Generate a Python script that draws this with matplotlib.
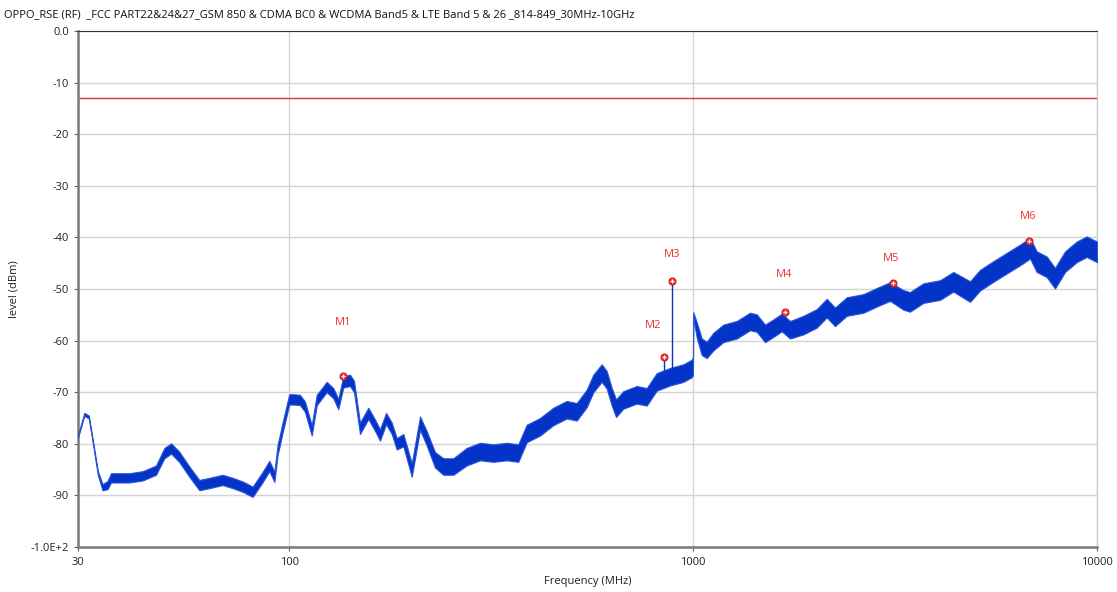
import numpy as np
from matplotlib import pyplot as plt
import matplotlib.ticker as ticker

# trace (MHz, dBm); band = half width of the noisy trace
freq_mhz = [30, 31.1, 31.9, 32.6, 33.6, 34.5, 35.5, 36.2, 38.0, 40.2, 43.4, 46.8, 49.1, 51.0,
            53.4, 56.6, 59.9, 63.4, 68.4, 72.5, 76.7, 81.2, 86.0, 89.3, 91.9, 93.6, 96.4,
            100.0, 102.9, 106.3, 109.4, 113.7, 117.0, 123.8, 128.6, 132.3, 136.1, 141.4,
            144.7, 149.7, 157.0, 163.1, 167.8, 173.7, 179.4, 184.6, 191.7, 201.1, 210.8,
            218.9, 229.6, 240.7, 254.9, 275.1, 296.8, 320.2, 345.6, 369.1, 387.3, 417.8,
            450.7, 486.5, 515.0, 545.3, 566.2, 593.9, 611.1, 628.8, 644.4, 671.8, 725.2,
            767.6, 812.6, 876.6, 946.0, 992.2, 999, 1001, 1020.7, 1050.3, 1080.8, 1122,
            1188, 1282, 1383, 1437, 1507, 1580, 1657, 1738, 1874, 2023, 2142, 2245, 2401,
            2639, 2849, 3073, 3314, 3443, 3715, 4087, 4408, 4849, 5132, 5538, 5976, 6448,
            6826, 7092, 7507, 7870, 8335, 8905, 9430, 10000]
level_dbm = [-78.5, -74.3, -74.8, -79.3, -85.7, -88.4, -88.0, -86.6, -86.6, -86.6, -86.2,
             -85.1, -81.8, -80.9, -82.5, -85.4, -88.0, -87.6, -87.0, -87.6, -88.3, -89.3,
             -86.4, -84.3, -86.4, -81.2, -76.7, -71.4, -71.4, -71.5, -72.8, -77.4, -71.5,
             -69.0, -70.2, -72.3, -68.0, -67.7, -68.9, -77.0, -74.1, -76.4, -78.3, -75.1,
             -77.0, -80.0, -79.3, -85.1, -76.0, -78.9, -83.1, -84.4, -84.4, -82.5, -81.5,
             -81.8, -81.5, -81.8, -78.0, -76.7, -74.7, -73.4, -73.8, -71.2, -68.3, -66.3,
             -67.6, -70.9, -73.1, -71.5, -70.5, -70.9, -68.0, -67.0, -66.3, -65.4, -65.0,
             -55.0, -57.9, -61.2, -61.8, -60.2, -58.6, -57.9, -56.3, -56.6, -58.6, -57.6,
             -56.5, -57.9, -57.0, -55.7, -53.7, -55.4, -53.4, -52.8, -51.6, -50.5, -52.1,
             -52.5, -50.8, -50.2, -48.6, -50.5, -48.3, -46.6, -45.0, -43.4, -42.1, -44.7,
             -45.7, -47.9, -44.7, -42.8, -41.8, -42.8]
band_db = [0.3, 0.3, 0.3, 0.3, 0.4, 0.6, 0.8, 0.9, 0.9, 0.9, 0.9, 0.9, 1.0, 1.0, 1.0,
           1.0, 1.0, 1.0, 1.0, 1.0, 1.0, 1.0, 1.0, 1.0, 1.0, 1.0, 1.0, 1.0, 1.0, 1.0, 1.0,
           1.0, 1.0, 1.0, 1.0, 1.0, 1.1, 1.1, 1.1, 1.1, 1.1, 1.1, 1.1, 1.1, 1.1, 1.1, 1.2,
           1.3, 1.3, 1.4, 1.5, 1.6, 1.6, 1.7, 1.7, 1.7, 1.7, 1.7, 1.7, 1.7, 1.7, 1.7, 1.7,
           1.7, 1.7, 1.7, 1.7, 1.7, 1.7, 1.7, 1.7, 1.7, 1.7, 1.7, 1.7, 1.7, 1.7, 0.5, 1.5,
           1.6, 1.6, 1.7, 1.7, 1.7, 1.7, 1.7, 1.7, 1.7, 1.7, 1.7, 1.8, 1.8, 1.8, 1.8, 1.8,
           1.8, 1.8, 1.8, 1.9, 1.9, 1.9, 1.9, 1.9, 2.0, 2.0, 2.0, 2.0, 2.0, 2.0, 2.0, 2.0,
           2.0, 2.0, 2.0, 2.0, 2.0]

# narrow spikes under M2, M3, M4
spike_freq = [845, 888, 1689]
spike_base = [-67.5, -67.0, -57.0]
spike_top = [-63.2, -48.4, -54.4]

# markers
marker_names = ["M1", "M2", "M3", "M4", "M5", "M6"]
marker_freq = [135.9, 845, 888, 1689, 3120, 6786]
marker_level = [-66.9, -63.2, -48.4, -54.4, -48.9, -40.7]
label_freq = [135.9, 795, 888, 1680, 3100, 6760]
label_level = [-56.4, -57.0, -43.4, -47.1, -44.0, -36.0]

limit_dbm = -13

title = "OPPO_RSE (RF)  _FCC PART22&24&27_GSM 850 & CDMA BC0 & WCDMA Band5 & LTE Band 5 & 26 _814-849_30MHz-10GHz"

plt.rcParams['font.family'] = ['Open Sans', 'DejaVu Sans']

fig = plt.figure(figsize=(11.17, 5.92), dpi=100)
ax = fig.add_axes([78 / 1117, 1 - 547 / 592, (1097 - 78) / 1117, (547 - 31) / 592])

f = np.array(freq_mhz)
lv = np.array(level_dbm)
bw = np.array(band_db)
blue = "#0433c8"

ax.fill_between(f, lv - bw, lv + bw, color=blue, linewidth=0.8, edgecolor="#2a55d8", zorder=3)
ax.vlines(spike_freq, spike_base, spike_top, color=blue, linewidth=1.0, zorder=3)

ax.axhline(limit_dbm, color="#d9343a", linewidth=1.0, zorder=2)

ax.plot(marker_freq, marker_level, "o", ms=5, color="#f23c3c", mec="#c81e1e", mew=0.8, zorder=5)
ax.plot(marker_freq, marker_level, "+", ms=3.5, color="white", mew=0.8, zorder=6)
for name, x, y in zip(marker_names, label_freq, label_level):
    ax.text(x, y, name, color="#f03030", fontsize=8, ha="center", va="center")

ax.set_xscale("log")
ax.set_xlim(30, 10000)
ax.set_ylim(-100, 0)
ax.xaxis.set_major_locator(ticker.FixedLocator([30, 100, 1000, 10000]))
ax.xaxis.set_minor_locator(ticker.NullLocator())
ax.xaxis.set_major_formatter(ticker.FixedFormatter(["30", "100", "1000", "10000"]))
yt = list(range(-100, 1, 10))
ax.set_yticks(yt)
ax.set_yticklabels(["-1.0E+2"] + [str(v) for v in yt[1:-1]] + ["0.0"])

ax.grid(True, color="#d4d4d4", linewidth=1.0, zorder=0)
ax.set_axisbelow(True)
ax.tick_params(axis="both", labelsize=8, length=3, color="#606060", labelcolor="#222222")
ax.tick_params(axis="x", pad=4)

for s in ["left", "bottom"]:
    ax.spines[s].set_color("#7a7a7a")
    ax.spines[s].set_linewidth(1.8)
ax.spines["top"].set_color("#333333")
ax.spines["top"].set_linewidth(0.8)
ax.spines["right"].set_color("#c8c8c8")
ax.spines["right"].set_linewidth(0.8)

ax.set_xlabel("Frequency (MHz)", fontsize=8, color="#222222", labelpad=6)
ax.set_ylabel("level (dBm)", fontsize=8, color="#222222", labelpad=8)

fig.text(4 / 1117, 1 - 15 / 592, title, fontsize=8, color="#111111", ha="left", va="center")

fig.savefig("out.png", dpi=100)
